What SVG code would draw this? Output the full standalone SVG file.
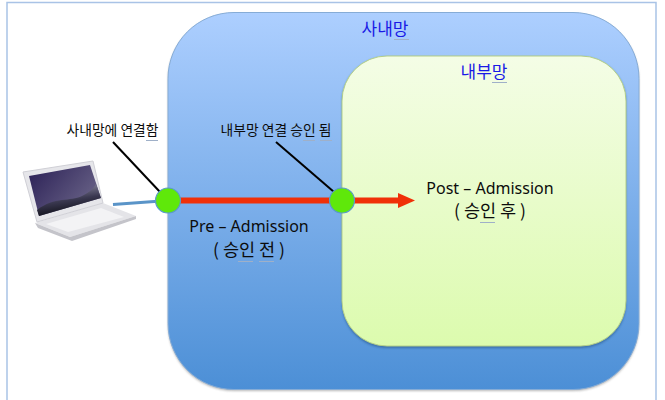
<svg xmlns="http://www.w3.org/2000/svg" width="665" height="400" viewBox="0 0 665 400">
<style>
text{font-family:"Noto Sans","Noto Sans CJK KR",sans-serif;text-anchor:middle;fill:#0c0c0c}
.k{font-family:"Noto Sans CJK KR","Noto Sans",sans-serif}
.b{fill:#1a1ae6;font-size:17px}
.s{font-size:13.800px}
.m{font-size:16px}
.n{font-size:17.500px}
.u{stroke:#9fb0c8;stroke-width:1;fill:none}
.dot{fill:#5fe80a;stroke:#5a9ac8;stroke-width:1.200}
.lead{stroke:#000;stroke-width:2;fill:none}
</style>
<defs>
<linearGradient id="ob" x1="0" y1="0" x2="0" y2="1"><stop offset="0" stop-color="#adcfff"/><stop offset="1" stop-color="#4c8fd6"/></linearGradient>
<linearGradient id="ig" x1="0" y1="0" x2="0" y2="1"><stop offset="0" stop-color="#f4fde6"/><stop offset="1" stop-color="#dcfbae"/></linearGradient>
<linearGradient id="scr" x1="0" y1="0" x2="1" y2="0.600"><stop offset="0" stop-color="#2a1f55"/><stop offset="1" stop-color="#6a6488"/></linearGradient>
<linearGradient id="wave" x1="0" y1="0" x2="0.300" y2="1"><stop offset="0" stop-color="#a8a6bc"/><stop offset="0.600" stop-color="#3a3850"/><stop offset="1" stop-color="#101018"/></linearGradient>
<filter id="sh" x="-5%" y="-5%" width="110%" height="110%"><feGaussianBlur stdDeviation="1"/></filter>
</defs>
<rect width="665" height="400" fill="#fff"/>
<path d="M7 400V2.500H656V400" fill="none" stroke="#a9c3e6" stroke-width="1.500"/>
<g id="intranet">
<rect x="168" y="14" width="471" height="377" rx="66" fill="#8a8a8a" opacity="0.6" filter="url(#sh)"/>
<rect x="168" y="12.500" width="471" height="377" rx="66" fill="url(#ob)" stroke="#86acd6" stroke-width="1"/>
<text class="k b" x="385" y="35">사내망</text>
<path class="u" d="M394 39.500H409"/>
</g>
<g id="internal">
<rect x="342" y="57" width="284" height="291" rx="45" fill="#2f5f96" opacity="0.7" filter="url(#sh)"/>
<rect x="342" y="56" width="284" height="290" rx="45" fill="url(#ig)" stroke="#b4cf88" stroke-width="1"/>
<text class="k b" x="484" y="78">내부망</text>
<path class="u" d="M492 82.500H507"/>
</g>
<g id="laptop">
<path d="M35 223L103 203L136 216L70 237Z" fill="#e4e4e8"/>
<path d="M35 223L70 237L136 216L136 219L72 241L38 228Z" fill="#c4c4ca"/>
<path d="M46 224L101 208L124 217L68 232Z" fill="#f3f3f5"/>
<path d="M23 172L93 161L103 203L37 222Z" fill="#e6e6ea" stroke="#d0d0d6" stroke-width="1"/>
<path d="M29 176L90 165L101 198L39 216Z" fill="url(#scr)"/>
<path d="M37 210C55 196 70 202 82 196C90 192 94 188 96 184L101 198L39 216Z" fill="url(#wave)"/>
</g>
<g id="connectors">
<path d="M113 204.500L168 200.500" stroke="#5a94c8" stroke-width="3" fill="none"/>
<path class="lead" d="M113 142L160 192"/>
<path class="lead" d="M276 142L334 192"/>
<path d="M168 200.500H398" stroke="#f03008" stroke-width="6" fill="none"/>
<path d="M398 193L415 200.500L398 208Z" fill="#f03008"/>
</g>
<g id="entry-point"><circle class="dot" cx="168" cy="200.500" r="12.500"/></g>
<g id="approval-point"><circle class="dot" cx="342" cy="200.500" r="12.500"/></g>
<g id="label-connect">
<text class="k s" x="112.500" y="135">사내망에 연결함</text>
<path class="u" d="M146 140.500H158"/>
</g>
<g id="label-approved">
<text class="k s" x="276" y="135">내부망 연결 승인 됨</text>
<path class="u" d="M303 140.500H315M320 140.500H332"/>
</g>
<g id="label-pre">
<text class="m" x="249" y="232">Pre – Admission</text>
<text class="k n" x="249" y="256">( 승인 전 )</text>
<path class="u" d="M238 261.500H253M259 261.500H274"/>
</g>
<g id="label-post">
<text class="m" x="490" y="194">Post – Admission</text>
<text class="k n" x="490" y="217">( 승인 후 )</text>
<path class="u" d="M480 222.500H495"/>
</g>
</svg>
